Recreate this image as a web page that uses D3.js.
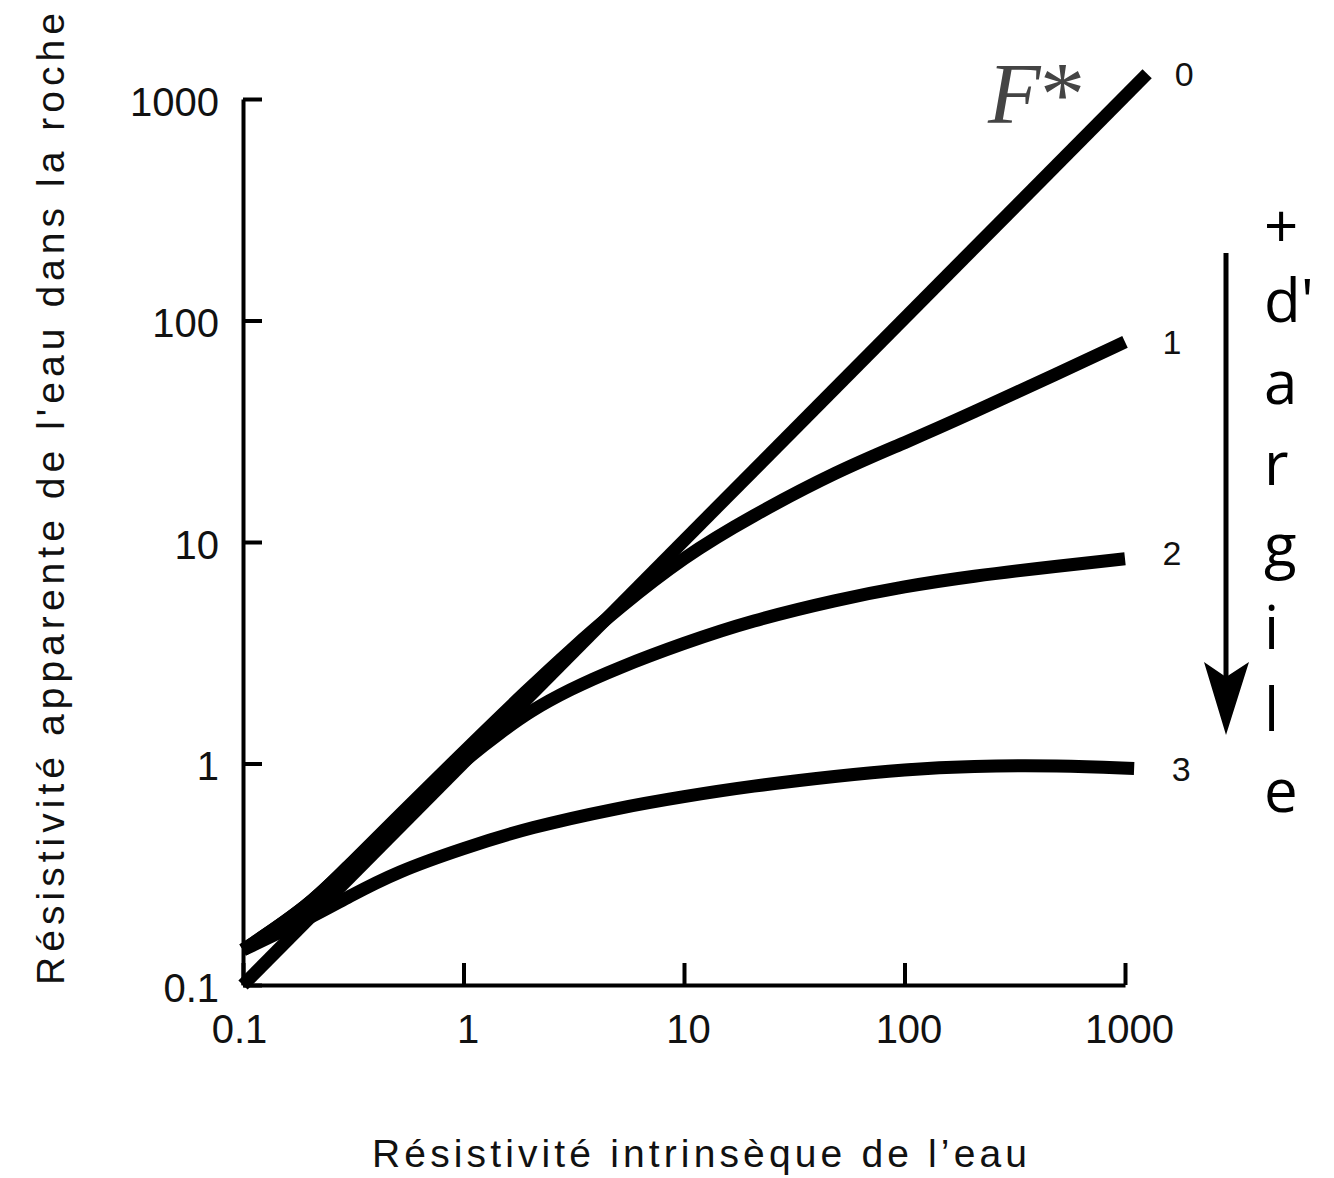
<!DOCTYPE html>
<html>
<head>
<meta charset="utf-8">
<script src="https://cdn.jsdelivr.net/npm/d3@7"></script>
<style>
  html, body { margin: 0; padding: 0; background: #fff; }
  svg { display: block; }
</style>
</head>
<body>
<div id="graph"></div>
<script>
// tick values and labels (same on both log axes)
const tickValues = [0.1, 1, 10, 100, 1000];
const tickLabels = ['0.1', '1', '10', '100', '1000'];

// curve names, as written at the right end of each curve
const curveNames = ['0', '1', '2', '3'];

// curve 0 : straight line F*
const rw0 = [0.1, 1260];
const ra0 = [0.1, 1300];

// curve 1
const rw1 = [0.1, 0.2, 0.3, 0.5, 1, 2, 3, 5, 10, 20, 50, 100, 200, 500, 1000];
const ra1 = [0.144, 0.228, 0.345, 0.57, 1.13, 2.2, 3.2, 5.0, 8.6, 13, 21, 28, 38, 58, 80];

// curve 2
const rw2 = [0.1, 0.2, 0.3, 0.5, 1, 1.5, 2, 3, 5, 10, 20, 50, 100, 200, 500, 1000];
const ra2 = [0.144, 0.228, 0.345, 0.55, 1.03, 1.4, 1.72, 2.15, 2.7, 3.5, 4.4, 5.5, 6.3, 7.0, 7.8, 8.4];

// curve 3
const rw3 = [0.1, 0.2, 0.3, 0.5, 1, 2, 5, 10, 20, 50, 100, 200, 500, 1100];
const ra3 = [0.144, 0.2, 0.25, 0.325, 0.415, 0.515, 0.63, 0.71, 0.79, 0.88, 0.94, 0.975, 0.98, 0.95];

// annotation on the right side
const clayLetters = ['+', "d'", 'a', 'r', 'g', 'i', 'l', 'e'];

const xTitle = 'Résistivité intrinsèque de l\u2019eau';
const yTitle = 'Résistivité apparente de l\'eau dans la roche';

const width = 1334;
const height = 1178;

const xScale = d3.scaleLog()
    .domain([0.1, 1000])
    .range([243, 1125]);

const yScale = d3.scaleLog()
    .domain([0.1, 1000])
    .range([985, 99]);

const svg = d3.select('#graph')
    .append('svg')
    .attr('width', width)
    .attr('height', height);

const labelFont = '"Liberation Sans", Arial, sans-serif';

// y axis (ticks pointing inward, to the right)
const yAxis = svg.append('g')
    .attr('transform', `translate(${xScale(0.1)}, 0)`)
    .call(d3.axisLeft(yScale)
        .tickValues(tickValues)
        .tickFormat((d, i) => tickLabels[i])
        .tickSizeInner(-19)
        .tickSizeOuter(0)
        .tickPadding(24));

// x axis (ticks pointing up)
const xAxis = svg.append('g')
    .attr('transform', `translate(0, ${yScale(0.1)})`)
    .call(d3.axisBottom(xScale)
        .tickValues(tickValues)
        .tickFormat((d, i) => tickLabels[i])
        .tickSizeInner(-22)
        .tickSizeOuter(0)
        .tickPadding(30));

[xAxis, yAxis].forEach(ax => {
    ax.select('.domain').attr('stroke', '#000').attr('stroke-width', 4);
    ax.selectAll('.tick line').attr('stroke', '#000').attr('stroke-width', 4);
    ax.selectAll('.tick text')
        .attr('fill', '#111')
        .attr('font-family', labelFont)
        .attr('font-size', 40);
});
yAxis.selectAll('.tick text').attr('dy', '0.4em');
xAxis.selectAll('.tick text').attr('dx', (d, i) => i === 0 ? -4 : 4);

// curves
const curves = [
    { name: curveNames[0], data: rw0.map((x, i) => [x, ra0[i]]) },
    { name: curveNames[1], data: rw1.map((x, i) => [x, ra1[i]]) },
    { name: curveNames[2], data: rw2.map((x, i) => [x, ra2[i]]) },
    { name: curveNames[3], data: rw3.map((x, i) => [x, ra3[i]]) }
];

const line = d3.line()
    .x(d => xScale(d[0]))
    .y(d => yScale(d[1]))
    .curve(d3.curveBasis);

svg.append('g')
    .selectAll('path')
    .data(curves)
    .enter()
    .append('path')
        .attr('d', d => line(d.data))
        .attr('fill', 'none')
        .attr('stroke', '#000')
        .attr('stroke-width', 13)
        .attr('stroke-linecap', 'butt')
        .attr('stroke-linejoin', 'round');

// curve names next to the ends
svg.append('g')
    .selectAll('text')
    .data(curves)
    .enter()
    .append('text')
        .attr('x', d => xScale(d.data[d.data.length - 1][0]) + (d.name === '0' ? 37 : 47))
        .attr('y', d => yScale(d.data[d.data.length - 1][1]) + (d.name === '2' ? -6 : 0))
        .attr('dy', '0.36em')
        .attr('text-anchor', 'middle')
        .attr('font-family', labelFont)
        .attr('font-size', 34)
        .attr('fill', '#111')
        .text(d => d.name);

// F* label
svg.append('text')
    .attr('x', 988)
    .attr('y', 123)
    .attr('font-family', '"Liberation Serif", "DejaVu Serif", serif')
    .attr('font-style', 'italic')
    .attr('font-size', 86)
    .attr('fill', '#444')
    .text('F');
svg.append('text')
    .attr('x', 1040)
    .attr('y', 125)
    .attr('font-family', '"Liberation Serif", "DejaVu Serif", serif')
    .attr('font-size', 90)
    .attr('fill', '#444')
    .text('*');

// arrow "+ d'argile"
svg.append('line')
    .attr('x1', 1226).attr('y1', 253)
    .attr('x2', 1226).attr('y2', 680)
    .attr('stroke', '#000')
    .attr('stroke-width', 5);
svg.append('path')
    .attr('d', 'M1226,735 L1204,662 L1226,677 L1249,662 Z')
    .attr('fill', '#000');

svg.append('g')
    .selectAll('text')
    .data(clayLetters)
    .enter()
    .append('text')
        .attr('x', 1264)
        .attr('y', (d, i) => i === 0 ? 248 : 322 + (i - 1) * 81.7)
        .attr('font-family', '"Open Sans", "Noto Sans", sans-serif')
        .attr('font-size', 60)
        .attr('fill', '#000')
        .text(d => d);

// axis titles
svg.append('text')
    .attr('x', 372)
    .attr('y', 1167)
    .attr('font-family', labelFont)
    .attr('font-size', 39)
    .attr('fill', '#111')
    .attr('textLength', 655)
    .attr('lengthAdjust', 'spacing')
    .text(xTitle);

svg.append('text')
    .attr('transform', 'translate(64, 985) rotate(-90)')
    .attr('x', 0)
    .attr('y', 0)
    .attr('font-family', labelFont)
    .attr('font-size', 39)
    .attr('fill', '#111')
    .attr('textLength', 972)
    .attr('lengthAdjust', 'spacing')
    .text(yTitle);
</script>
</body>
</html>
